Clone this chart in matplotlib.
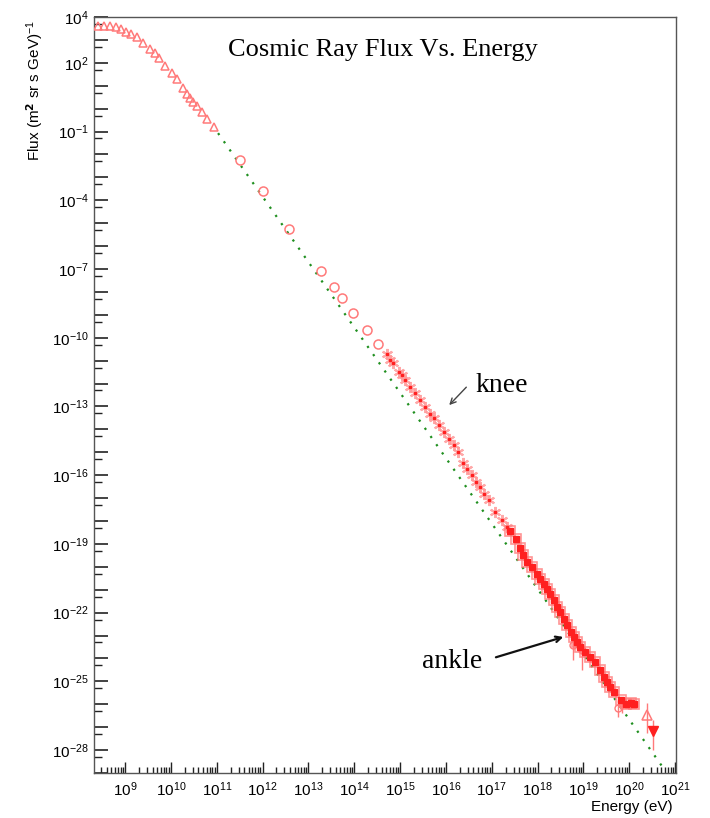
import numpy as np
import matplotlib
matplotlib.use("Agg")
import matplotlib.pyplot as plt
from matplotlib.ticker import FixedLocator, NullFormatter, FixedFormatter

plt.rcParams['mathtext.fontset'] = 'custom'
plt.rcParams['mathtext.rm'] = 'Liberation Sans'
plt.rcParams['mathtext.it'] = 'Liberation Sans:italic'
plt.rcParams['font.family'] = ['Liberation Sans', 'DejaVu Sans']

# ---- data ----
# low-energy direct measurements (open triangles)
tri_E = [2.57e8, 3.47e8, 4.68e8, 6.31e8, 8.13e8, 1.05e9, 1.35e9, 1.82e9, 2.45e9, 3.55e9,
         4.57e9, 5.50e9, 7.41e9, 1.07e10, 1.38e10, 1.86e10, 2.24e10, 2.63e10, 3.02e10,
         3.72e10, 4.79e10, 6.17e10, 8.71e10]
tri_F = [4.07e3, 4.07e3, 4.07e3, 3.63e3, 3.02e3, 2.19e3, 1.82e3, 1.35e3, 7.24e2, 3.98e2,
         2.69e2, 1.62e2, 7.24e1, 3.55e1, 1.95e1, 7.94, 4.37, 2.88, 1.95,
         1.29, 0.708, 0.355, 0.158]

# balloon / satellite (open circles)
circ_E = [3.24e11, 1.02e12, 3.80e12, 1.91e13, 3.63e13, 5.50e13, 9.55e13, 1.91e14, 3.31e14]
circ_F = [5.75e-3, 2.51e-4, 5.50e-6, 8.13e-8, 1.62e-8, 5.37e-9, 1.17e-9, 2.14e-10, 5.25e-11]

# knee region air showers (asterisks)
knee_E = [5.13e14, 6.17e14, 7.08e14, 9.33e14, 1.10e15, 1.29e15, 1.66e15, 2.14e15, 2.69e15,
          3.55e15, 4.57e15, 5.62e15, 6.92e15, 8.91e15, 1.15e16, 1.48e16, 1.82e16, 2.34e16,
          2.88e16, 3.72e16, 4.57e16, 5.62e16, 6.92e16, 8.91e16, 1.20e17, 1.66e17, 2.14e17]
knee_F = [1.91e-11, 1.12e-11, 7.59e-12, 3.24e-12, 2.34e-12, 1.41e-12, 6.76e-13, 3.72e-13,
          1.91e-13, 9.12e-14, 4.90e-14, 3.02e-14, 1.55e-14, 7.76e-15, 3.98e-15, 2.04e-15,
          1.05e-15, 3.24e-16, 1.95e-16, 1.00e-16, 5.13e-17, 3.09e-17, 1.58e-17, 7.94e-18,
          2.51e-18, 1.07e-18, 5.50e-19]

# ultra-high energy air showers (filled squares)
uhe_E = [2.57e17, 3.31e17, 4.17e17, 4.90e17, 5.89e17, 7.59e17, 9.77e17, 1.15e18, 1.35e18,
         1.62e18, 1.91e18, 2.24e18, 2.69e18, 3.16e18, 3.72e18, 4.37e18, 5.25e18, 6.17e18,
         7.24e18, 8.51e18, 1.10e19, 1.41e19, 1.82e19, 2.34e19, 2.75e19, 3.31e19, 3.89e19,
         4.57e19, 6.46e19, 8.32e19, 1.07e20, 1.26e20]
uhe_F = [3.55e-19, 1.62e-19, 6.61e-20, 3.24e-20, 1.62e-20, 9.77e-21, 5.01e-21, 3.09e-21,
         1.86e-21, 1.12e-21, 6.76e-22, 3.47e-22, 1.78e-22, 1.07e-22, 5.50e-23, 2.82e-23,
         1.45e-23, 8.71e-24, 5.25e-24, 3.16e-24, 1.91e-24, 1.17e-24, 7.08e-25, 3.02e-25,
         1.55e-25, 9.33e-26, 5.75e-26, 3.47e-26, 1.48e-26, 1.07e-26, 1.15e-26, 1.07e-26]

# points with visible error bars
err_E = [6.03e18, 9.55e18, 5.75e19, 7.0e19]
err_F = [3.80e-24, 2.29e-24, 6.6e-27, 1.0e-26]
err_lo = [8.3e-25, 3.0e-25, 2.7e-27, 4.0e-27]
err_hi = [8.5e-24, 4.57e-24, 1.48e-26, 2.0e-26]

# highest-energy points
top_tri_E, top_tri_F, top_tri_lo, top_tri_hi = [2.40e20], [3.31e-27], [5.4e-28], [1.10e-26]
top_dn_E, top_dn_F, top_dn_lo, top_dn_hi = [3.39e20], [6.6e-28], [1.0e-28], [2.0e-27]

# power-law reference line
fit_E = [1.07e11, 5.6e20]
fit_F = [8.5e-2, 1.6e-29]

x_exp = list(range(9, 22))
y_label_exp = [4, 2, -1, -4, -7, -10, -13, -16, -19, -22, -25, -28]

# ---- figure ----
W, H = 710, 818
fig = plt.figure(figsize=(W / 100, H / 100), dpi=100)
L, R, T, B = 94, 676, 17, 773
ax = fig.add_axes([L / W, (H - B) / H, (R - L) / W, (B - T) / H])
ax.set_xscale('log')
ax.set_yscale('log')
ax.set_xlim(2.1e8, 1.05e21)
ax.set_ylim(1e-29, 1e4)

red = '#ff2020'
pink = '#ff7a7a'
lightpink = '#ff9a9a'

ax.plot(fit_E, fit_F, color='#1f8f1f', lw=1.6, ls=(0, (1, 3.5)), zorder=1)

ax.plot(tri_E, tri_F, ls='none', marker='^', ms=6, mfc='none', mec=pink, mew=1.1, zorder=3)
ax.plot(circ_E, circ_F, ls='none', marker='o', ms=6.5, mfc='none', mec=pink, mew=1.1, zorder=3)
ax.plot(knee_E, knee_F, ls='none', marker=(6, 2, 0), ms=8, mec=lightpink, mew=1.5, alpha=0.85, zorder=3)
ax.plot(knee_E, knee_F, ls='none', marker='s', ms=2, mfc=red, mec=red, zorder=4)

ax.plot(uhe_E, uhe_F, ls='none', marker='s', ms=7, mfc='none', mec=pink, mew=1.2, alpha=0.8, zorder=3)
ax.plot(uhe_E, uhe_F, ls='none', marker='s', ms=4.5, mfc=red, mec=red, zorder=4)

ax.errorbar(err_E, err_F,
            yerr=[np.array(err_F) - np.array(err_lo), np.array(err_hi) - np.array(err_F)],
            ls='none', marker='o', ms=5, mfc='none', mec=pink, ecolor=pink, elinewidth=1, zorder=3)
ax.errorbar(top_tri_E, top_tri_F,
            yerr=[np.array(top_tri_F) - np.array(top_tri_lo), np.array(top_tri_hi) - np.array(top_tri_F)],
            ls='none', marker='^', ms=7, mfc='none', mec=pink, mew=1.1, ecolor=pink, elinewidth=1, zorder=3)
ax.errorbar(top_dn_E, top_dn_F,
            yerr=[np.array(top_dn_F) - np.array(top_dn_lo), np.array(top_dn_hi) - np.array(top_dn_F)],
            ls='none', marker='v', ms=7, mfc=red, mec=red, ecolor=pink, elinewidth=1, zorder=3)

# ---- axes styling ----
for s in ax.spines.values():
    s.set_color('#555555')
    s.set_linewidth(1.0)

ax.xaxis.set_major_locator(FixedLocator([10.0 ** k for k in x_exp]))
ax.xaxis.set_major_formatter(FixedFormatter([r'$10^{%d}$' % k for k in x_exp]))
x_minor = [m * 10.0 ** k for k in range(8, 21) for m in range(2, 10)]
ax.xaxis.set_minor_locator(FixedLocator(x_minor))
ax.xaxis.set_minor_formatter(NullFormatter())

y_dec = list(range(-29, 5))
ax.yaxis.set_major_locator(FixedLocator([10.0 ** k for k in y_dec]))
ax.yaxis.set_major_formatter(FixedFormatter(
    [(r'$10^{%d}$' % k if k >= 0 else r'$10^{-%d}$' % (-k)) if k in y_label_exp else ''
     for k in y_dec]))
ax.yaxis.set_minor_locator(FixedLocator([5 * 10.0 ** k for k in range(-29, 4)]))
ax.yaxis.set_minor_formatter(NullFormatter())

ax.tick_params(which='both', direction='in', top=False, right=False, color='#222222')
ax.tick_params(axis='x', which='major', length=8, width=1, labelsize=11, pad=5)
ax.tick_params(axis='x', which='minor', length=4, width=1)
ax.tick_params(axis='y', which='major', length=10, width=1.2, labelsize=11, pad=4)
ax.tick_params(axis='y', which='minor', length=6, width=1)

# ---- texts ----
serif = ['Liberation Serif', 'DejaVu Serif']
ax.text(0.497, 0.956, 'Cosmic Ray Flux Vs. Energy', transform=ax.transAxes,
        ha='center', va='center', fontsize=19, family=serif)

ax.annotate('', xy=(0.607, 0.484), xytext=(0.643, 0.513), xycoords='axes fraction',
            textcoords='axes fraction',
            arrowprops=dict(arrowstyle='->', color='#444444', lw=1.0))
ax.text(0.655, 0.513, 'knee', transform=ax.transAxes, ha='left', va='center',
        fontsize=20, family=serif)

ax.annotate('', xy=(0.811, 0.181), xytext=(0.686, 0.152), xycoords='axes fraction',
            textcoords='axes fraction',
            arrowprops=dict(arrowstyle='->', color='#111111', lw=1.6))
ax.text(0.667, 0.148, 'ankle', transform=ax.transAxes, ha='right', va='center',
        fontsize=20, family=serif)

fig.text(35 / W, 1 - 20 / H, r'Flux (m$^{\mathbf{2}}$ sr s GeV)$^{-1}$', rotation=90,
         ha='center', va='top', fontsize=11)
fig.text(673 / W, 1 - 807 / H, 'Energy (eV)', ha='right', va='center', fontsize=11)

fig.savefig('out.png', dpi=100, facecolor='white')
